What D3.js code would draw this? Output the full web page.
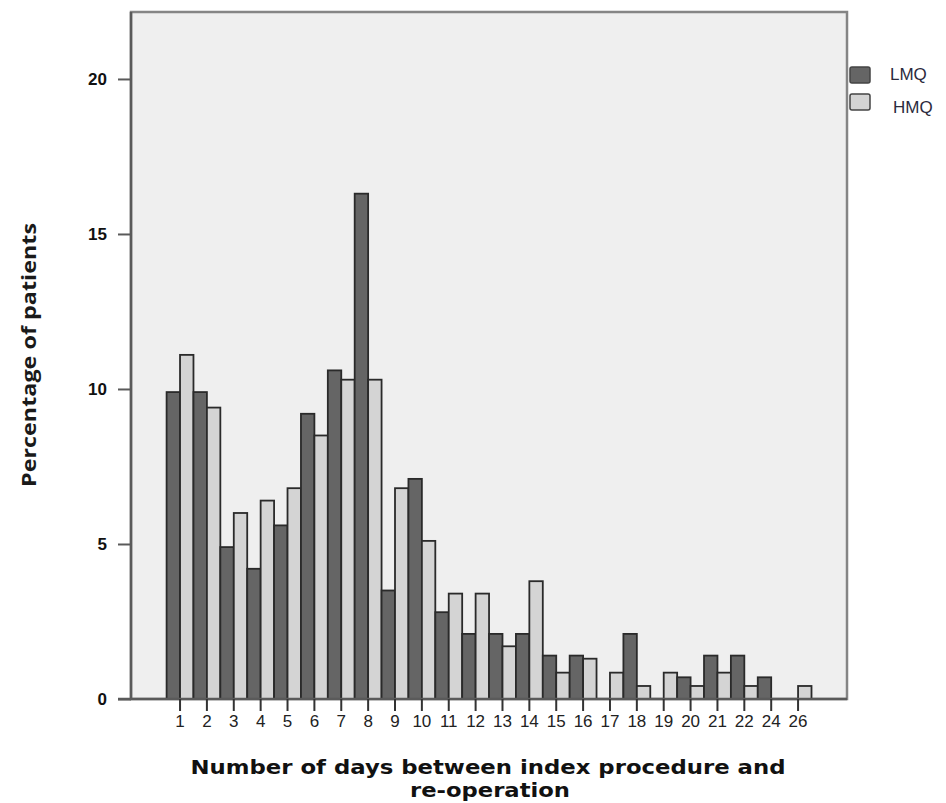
<!DOCTYPE html>
<html>
<head>
<meta charset="utf-8">
<script src="https://cdn.jsdelivr.net/npm/d3@7"></script>
<style>
  body { margin: 0; background: #fff; }
  svg { display: block; }
</style>
</head>
<body>
<svg></svg>
<script>
const width = 946;
const height = 803;

// data
const days = ["1","2","3","4","5","6","7","8","9","10","11","12","13","14","15","16","17","18","19","20","21","22","24","26"];
const lmq = [9.9, 9.9, 4.9, 4.2, 5.6, 9.2, 10.6, 16.3, 3.5, 7.1, 2.8, 2.1, 2.1, 2.1, 1.4, 1.4, 0, 2.1, 0, 0.7, 1.4, 1.4, 0.7, 0];
const hmq = [11.1, 9.4, 6.0, 6.4, 6.8, 8.5, 10.3, 10.3, 6.8, 5.1, 3.4, 3.4, 1.7, 3.8, 0.85, 1.3, 0.85, 0.42, 0.85, 0.42, 0.85, 0.42, 0, 0.42];
const seriesNames = ["LMQ", "HMQ"];
const yTicks = [0, 5, 10, 15, 20];
const colors = { LMQ: "#656565", HMQ: "#d4d4d4" };

const frame = { left: 131, right: 847, top: 12, bottom: 699 };

const svg = d3.select('svg')
    .attr('width', width).attr('height', height);

const y = d3.scaleLinear()
    .domain([0, 22.16])
    .range([frame.bottom, frame.top]);

const x = d3.scaleBand()
    .domain(days)
    .range([166.6, 811.5])
    .padding(0);

const xInner = d3.scaleBand()
    .domain(seriesNames)
    .range([0, x.bandwidth()]);

const rows = days.map((d, i) => ({ day: d, LMQ: lmq[i], HMQ: hmq[i] }));

// plot background + frame
svg.append('rect')
    .attr('x', frame.left).attr('y', frame.top)
    .attr('width', frame.right - frame.left)
    .attr('height', frame.bottom - frame.top)
    .style('fill', '#efefef')
    .style('stroke', '#858585')
    .style('stroke-width', 2.5);

// bars
const groups = svg.append('g').selectAll('g')
    .data(rows)
    .enter().append('g')
    .attr('transform', d => `translate(${x(d.day)},0)`);

groups.selectAll('rect')
    .data(d => seriesNames.map(k => ({ key: k, value: d[k] })).filter(e => e.value > 0))
    .enter().append('rect')
    .attr('x', d => xInner(d.key))
    .attr('y', d => y(d.value))
    .attr('width', xInner.bandwidth())
    .attr('height', d => y(0) - y(d.value))
    .style('fill', d => colors[d.key])
    .style('stroke', '#2a2a2a')
    .style('stroke-width', 1.8);

// axis lines
svg.append('line')
    .attr('x1', frame.left).attr('x2', frame.left)
    .attr('y1', frame.top).attr('y2', frame.bottom)
    .style('stroke', '#5a5a5a').style('stroke-width', 2.5);
svg.append('line')
    .attr('x1', 118).attr('x2', frame.right)
    .attr('y1', frame.bottom).attr('y2', frame.bottom)
    .style('stroke', '#5a5a5a').style('stroke-width', 2.5);

// y axis
const yAxis = svg.append('g')
    .attr('transform', `translate(${frame.left},0)`)
    .call(d3.axisLeft(y).tickValues(yTicks).tickSize(13).tickPadding(11).tickFormat(d3.format('d')));
yAxis.select('.domain').remove();
yAxis.selectAll('.tick line').style('stroke', '#5a5a5a').style('stroke-width', 2);
yAxis.selectAll('.tick text')
    .style('font-family', 'Arial, "Liberation Sans", sans-serif')
    .style('font-weight', 'bold')
    .style('font-size', '17px')
    .style('fill', '#111');

// x axis
const xAxis = svg.append('g')
    .attr('transform', `translate(0,${frame.bottom})`)
    .call(d3.axisBottom(x).tickSize(12).tickPadding(4));
xAxis.select('.domain').remove();
xAxis.selectAll('.tick line').style('stroke', '#333').style('stroke-width', 2);
xAxis.selectAll('.tick text')
    .style('font-family', '"Liberation Sans Narrow", "Arial Narrow", "Liberation Sans", sans-serif')
    .style('font-size', '17px')
    .style('fill', '#222');

// axis titles
const xTitle = svg.append('text')
    .attr('text-anchor', 'middle')
    .style('font-family', '"DejaVu Sans", Verdana, sans-serif')
    .style('font-weight', 'bold')
    .style('font-size', '20px')
    .style('fill', '#111');
xTitle.append('tspan')
    .attr('x', 488).attr('y', 774)
    .attr('textLength', 595).attr('lengthAdjust', 'spacingAndGlyphs')
    .text('Number of days between index procedure and');
xTitle.append('tspan')
    .attr('x', 490).attr('y', 797)
    .attr('textLength', 160).attr('lengthAdjust', 'spacingAndGlyphs')
    .text('re-operation');

svg.append('text')
    .attr('transform', 'translate(36,355) rotate(-90)')
    .attr('text-anchor', 'middle')
    .attr('textLength', 264).attr('lengthAdjust', 'spacingAndGlyphs')
    .style('font-family', '"Open Sans", sans-serif')
    .style('font-weight', 'bold')
    .style('font-size', '20px')
    .style('fill', '#1a1a1a')
    .text('Percentage of patients');

// legend
const legend = svg.append('g').selectAll('g')
    .data(seriesNames)
    .enter().append('g')
    .attr('transform', (d, i) => `translate(850,${67 + i * 27})`);
legend.append('rect')
    .attr('width', 20).attr('height', 16)
    .attr('rx', 2)
    .style('fill', d => colors[d])
    .style('stroke', '#444')
    .style('stroke-width', 1.5);
legend.append('text')
    .attr('x', (d, i) => 40 + i * 3)
    .attr('y', (d, i) => 13 + i * 6)
    .style('font-family', 'Arial, "Liberation Sans", sans-serif')
    .style('font-size', '17px')
    .style('fill', '#2b2b3d')
    .text(d => d);
</script>
</body>
</html>
